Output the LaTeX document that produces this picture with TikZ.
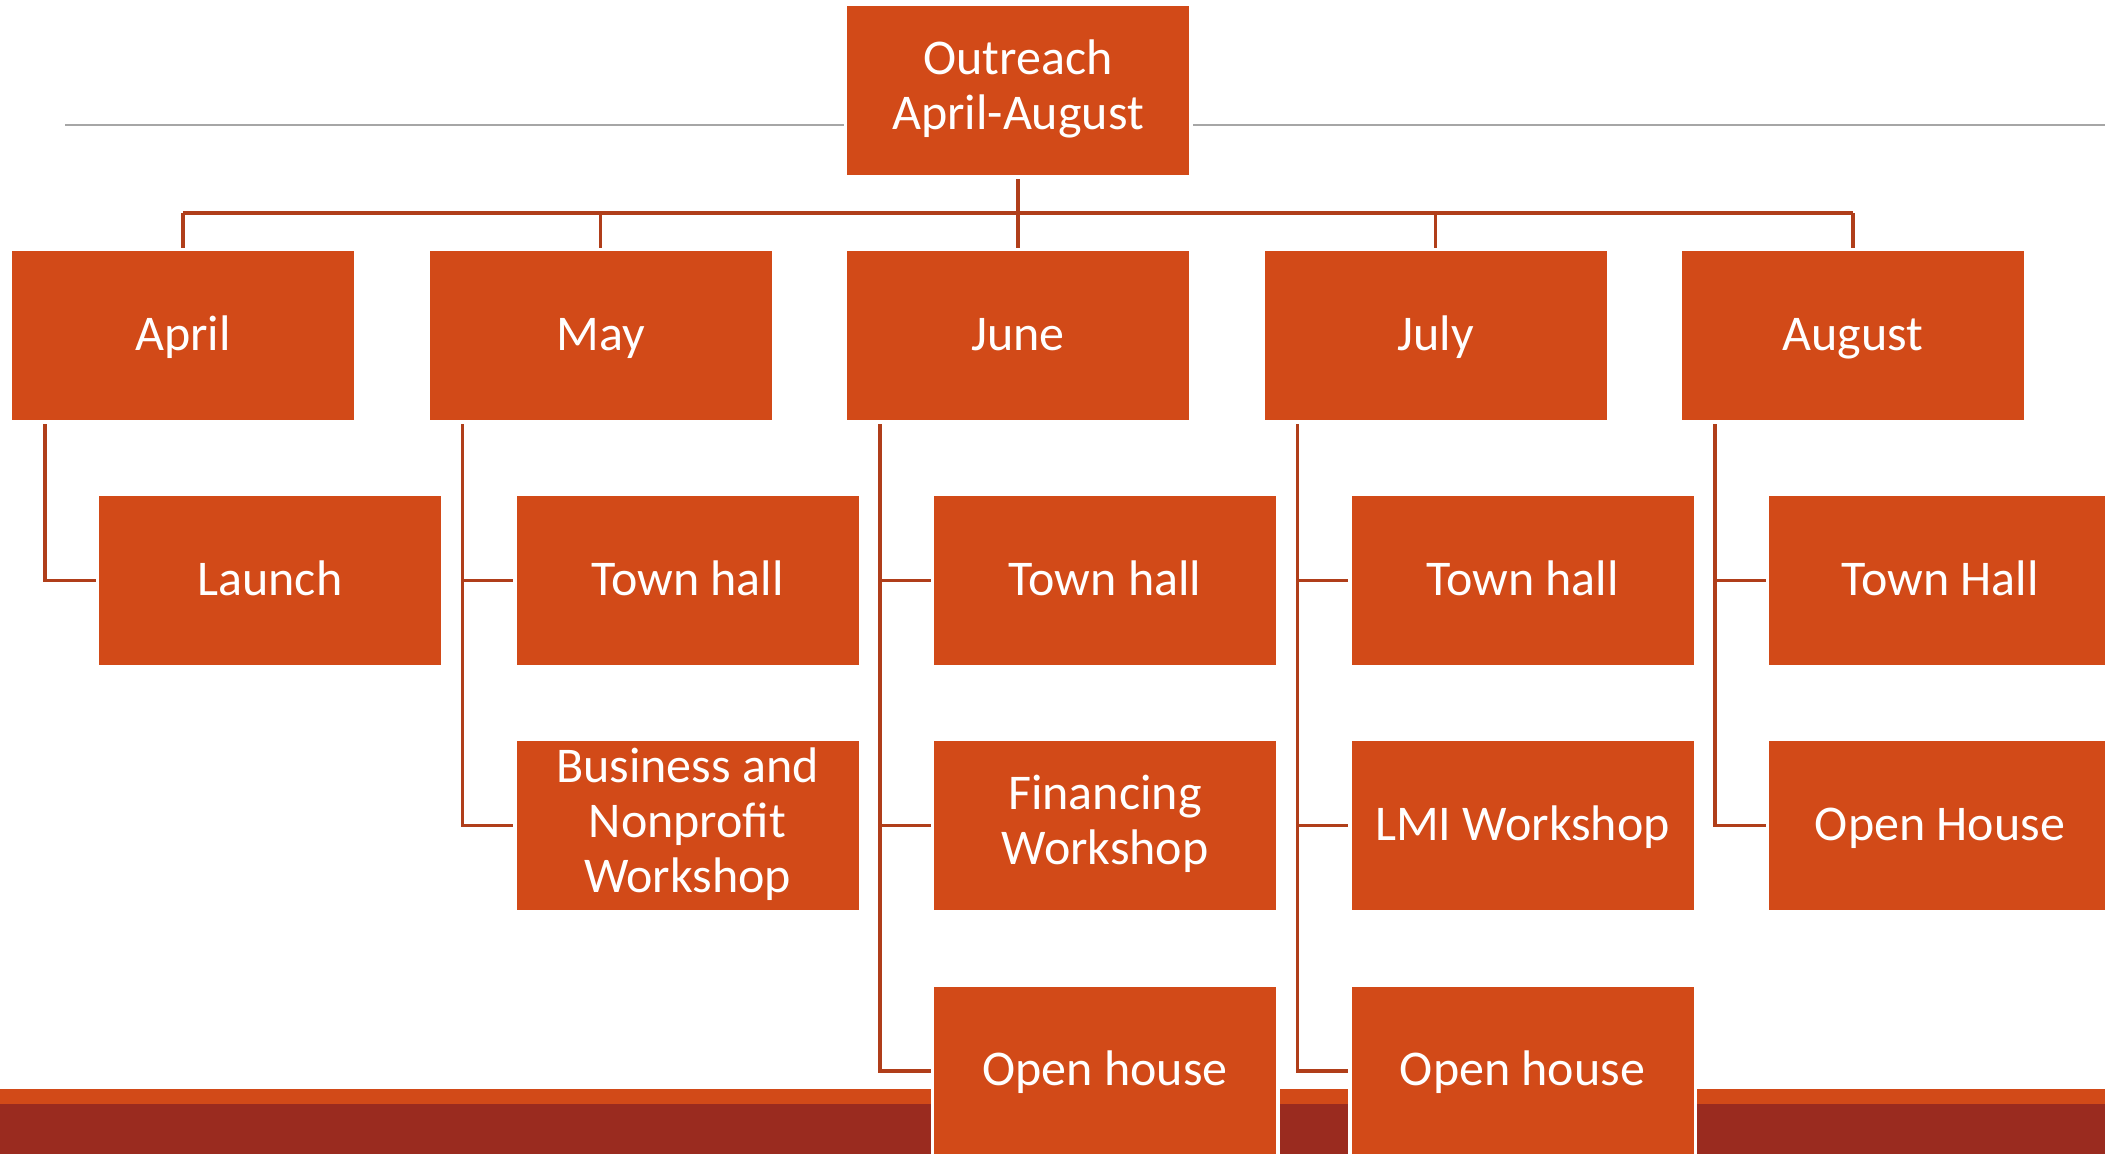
\documentclass[tikz,border=0pt]{standalone}
\usepackage{fontspec}
\setmainfont{Carlito}
\usetikzlibrary{backgrounds}
\definecolor{boxorange}{HTML}{D24A18}
\definecolor{barorange}{HTML}{D24A18}
\definecolor{bardark}{HTML}{9A2B1F}
\definecolor{linkred}{HTML}{B03E1A}
\definecolor{rulegray}{HTML}{A6A6A6}
% fixed line height/depth so every label sits on the same baseline
\newcommand\cardstrut{\rule[-11pt]{0pt}{51pt}}
\newcommand\tallstrut{\rule[-11pt]{0pt}{57pt}}
\begin{document}
\begin{tikzpicture}[x=1pt,y=-1pt,
  card/.style={fill=boxorange, draw=white, line width=3.5pt,
    minimum width=345.5pt, minimum height=172.5pt, inner sep=0pt,
    text=white, align=center, font=\fontsize{50}{55}\selectfont,
    execute at begin node=\cardstrut, execute at end node=\cardstrut},
  multicard/.style={card, execute at begin node=\tallstrut},
  link/.style={draw=linkred, line width=3.5pt},
  branch/.style={link}]
\useasboundingbox (0,0) rectangle (2105,1154);
\clip (0,0) rectangle (2105,1154);

% root
\node[multicard] (top) at (1018,90.5) {Outreach\\April-August};

% months
\node[card] (apr) at (183,335.5)    {April};
\node[card] (may) at (600.5,335.5)  {May};
\node[card] (jun) at (1018,335.5)   {June};
\node[card] (jul) at (1435.5,335.5) {July};
\node[card] (aug) at (1853,335.5)   {August};

% events
\node[card] (apr1) at (270,580.5)    {Launch};
\node[card] (may1) at (687.5,580.5)  {Town hall};
\node[multicard] (may2) at (687.5,825.5)  {Business and\\Nonprofit\\Workshop};
\node[card] (jun1) at (1105,580.5)   {Town hall};
\node[multicard] (jun2) at (1105,825.5)   {Financing\\Workshop};
\node[card] (jun3) at (1105,1071)    {Open house};
\node[card] (jul1) at (1522.5,580.5) {Town hall};
\node[card] (jul2) at (1522.5,825.5) {LMI Workshop};
\node[card] (jul3) at (1522.5,1071)  {Open house};
\node[card] (aug1) at (1940,580.5)   {Town Hall};
\node[card] (aug2) at (1940,825.5)   {Open House};

\begin{scope}[on background layer]
  % footer bands
  \fill[barorange] (0,1089) rectangle (2105,1104);
  \fill[bardark] (0,1104) rectangle (2105,1154);
  % title rule
  \draw[rulegray, line width=1.5pt] (65,125) -- (2105,125);

  % root to months
  \coordinate (bus) at (0,213);
  \draw[link] (top.south) -- (jun.north);
  \draw[link] (apr.north |- bus) -- (aug.north |- bus);
  \foreach \m in {apr,may,jun,jul,aug}
    \draw[link] (\m.north |- bus) -- (\m.north);

  % months to events
  \draw[branch] ([xshift=-138pt]apr.south) |- (apr1.west);
  \draw[branch] ([xshift=-138pt]may.south) |- (may1.west);
  \draw[branch] ([xshift=-138pt]may.south) |- (may2.west);
  \draw[branch] ([xshift=-138pt]jun.south) |- (jun1.west);
  \draw[branch] ([xshift=-138pt]jun.south) |- (jun2.west);
  \draw[branch] ([xshift=-138pt]jun.south) |- (jun3.west);
  \draw[branch] ([xshift=-138pt]jul.south) |- (jul1.west);
  \draw[branch] ([xshift=-138pt]jul.south) |- (jul2.west);
  \draw[branch] ([xshift=-138pt]jul.south) |- (jul3.west);
  \draw[branch] ([xshift=-138pt]aug.south) |- (aug1.west);
  \draw[branch] ([xshift=-138pt]aug.south) |- (aug2.west);
\end{scope}
\end{tikzpicture}
\end{document}
